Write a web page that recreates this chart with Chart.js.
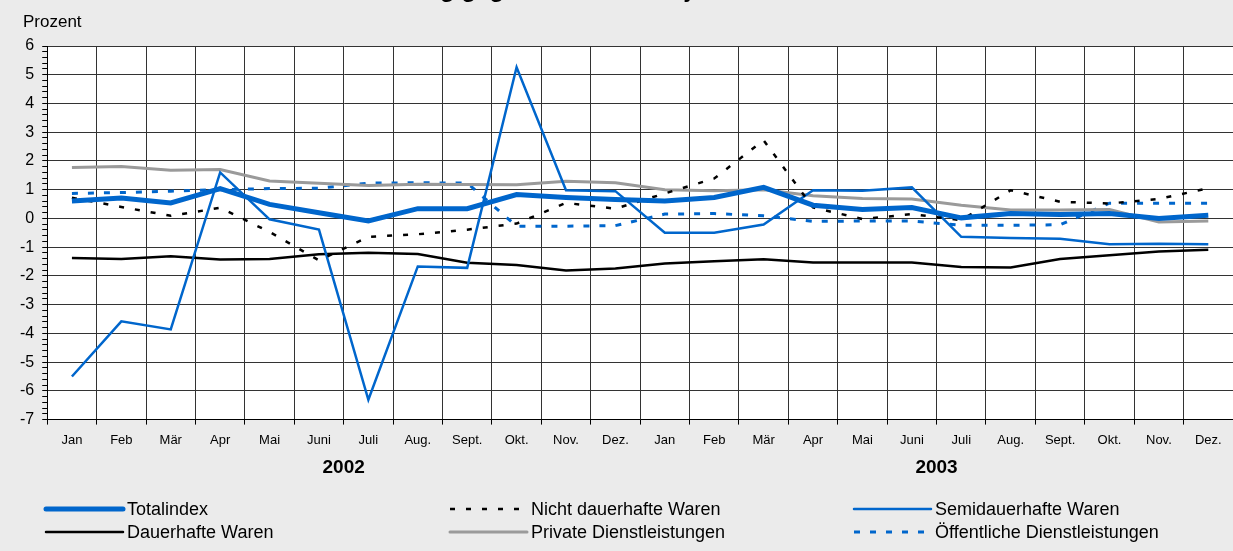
<!DOCTYPE html>
<html>
<head>
<meta charset="utf-8">
<script src="https://cdn.jsdelivr.net/npm/chart.js@4/dist/chart.umd.min.js"></script>
<style>
html, body { margin: 0; padding: 0; background: #ebebeb; }
</style>
</head>
<body>
<canvas id="lik" width="1233" height="551"></canvas>
<script>
var monthLabels = ['Jan', 'Feb', 'Mär', 'Apr', 'Mai', 'Juni', 'Juli', 'Aug.', 'Sept.', 'Okt.', 'Nov.', 'Dez.',
                   'Jan', 'Feb', 'Mär', 'Apr', 'Mai', 'Juni', 'Juli', 'Aug.', 'Sept.', 'Okt.', 'Nov.', 'Dez.'];
var years = ['2002', '2003'];

var totalindex = [0.61, 0.71, 0.54, 1.04, 0.49, 0.20, -0.09, 0.34, 0.34, 0.83, 0.73, 0.66,
                  0.61, 0.73, 1.08, 0.46, 0.31, 0.38, 0.02, 0.17, 0.14, 0.17, 0.00, 0.11];
var nichtDauerhaft = [0.72, 0.40, 0.09, 0.37, -0.47, -1.46, -0.64, -0.55, -0.39, -0.18, 0.54, 0.34,
                      0.87, 1.39, 2.72, 0.38, -0.02, 0.15, -0.06, 0.98, 0.58, 0.52, 0.68, 1.05];
var semidauerhaft = [-5.50, -3.58, -3.86, 1.60, -0.03, -0.39, -6.31, -1.67, -1.72, 5.26, 0.98, 0.95,
                     -0.50, -0.50, -0.21, 0.98, 0.96, 1.08, -0.64, -0.68, -0.71, -0.90, -0.88, -0.90];
var dauerhaft = [-1.38, -1.41, -1.32, -1.43, -1.41, -1.25, -1.19, -1.24, -1.54, -1.62, -1.81, -1.74,
                 -1.57, -1.49, -1.42, -1.53, -1.53, -1.53, -1.69, -1.71, -1.41, -1.28, -1.15, -1.09];
var privat = [1.77, 1.81, 1.68, 1.70, 1.30, 1.22, 1.15, 1.19, 1.18, 1.17, 1.29, 1.24,
              1.00, 0.96, 1.00, 0.79, 0.69, 0.68, 0.46, 0.29, 0.29, 0.31, -0.12, -0.09];
var oeffentlich = [0.87, 0.90, 0.95, 1.00, 1.04, 1.05, 1.23, 1.24, 1.23, -0.27, -0.27, -0.25,
                   0.15, 0.17, 0.09, -0.10, -0.09, -0.09, -0.24, -0.24, -0.22, 0.53, 0.53, 0.53];

var blue = '#0066cc';
var font = '"Liberation Sans", Arial, sans-serif';

function isWhole(v) {
    return Math.abs(v - Math.round(v)) < 1e-6;
}

// grey page, white plot area
var background = {
    id: 'background',
    beforeDraw: function(chart) {
        var ctx = chart.ctx, a = chart.chartArea;
        ctx.save();
        ctx.fillStyle = '#ebebeb';
        ctx.fillRect(0, 0, chart.width, chart.height);
        ctx.fillStyle = '#ffffff';
        ctx.fillRect(a.left, a.top, a.right - a.left, a.bottom - a.top);
        ctx.restore();
    }
};

// title (cut at the top edge), unit label and the 3x2 legend
var texts = {
    id: 'texts',
    afterDraw: function(chart) {
        var ctx = chart.ctx;
        ctx.save();
        ctx.fillStyle = '#000';
        ctx.textBaseline = 'alphabetic';
        ctx.font = 'bold 24px ' + font;
        ctx.fillText('Veränderung gegenüber dem Vorjahr', 308, -3);
        ctx.font = '17px ' + font;
        ctx.fillText('Prozent', 23, 27);

        ctx.font = '18px ' + font;
        ctx.textBaseline = 'middle';
        chart.data.datasets.forEach(function(ds, i) {
            var x = 46 + (i % 3) * 404;
            var y = 509 + Math.floor(i / 3) * 23;
            ctx.beginPath();
            ctx.setLineDash(ds.borderDash || []);
            ctx.lineCap = ds.borderDash ? 'butt' : 'round';
            ctx.lineWidth = ds.borderWidth;
            ctx.strokeStyle = ds.borderColor;
            ctx.moveTo(x, y);
            ctx.lineTo(x + 77, y);
            ctx.stroke();
            ctx.setLineDash([]);
            ctx.fillText(ds.label, x + 81, y + 1);
        });
        ctx.restore();
    }
};

function line(label, data, color, width, dash) {
    var ds = {
        label: label,
        data: data,
        borderColor: color,
        backgroundColor: color,
        borderWidth: width,
        pointRadius: 0,
        tension: 0,
        fill: false
    };
    if (dash) ds.borderDash = dash;
    return ds;
}

var ctx = document.getElementById('lik').getContext('2d');
var config = {
    type: 'line',
    data: {
        labels: monthLabels,
        datasets: [
            line('Totalindex', totalindex, blue, 5),
            line('Nicht dauerhafte Waren', nichtDauerhaft, '#000', 2.5, [5, 11]),
            line('Semidauerhafte Waren', semidauerhaft, blue, 2.5),
            line('Dauerhafte Waren', dauerhaft, '#000', 2.5),
            line('Private Dienstleistungen', privat, '#9a9a9a', 3),
            line('Öffentliche Dienstleistungen', oeffentlich, blue, 3, [6, 10])
        ]
    },
    options: {
        responsive: false,
        animation: false,
        layout: { padding: { top: 46, left: 12, right: 0, bottom: 72 } },
        plugins: {
            legend: { display: false },
            title: { display: false },
            tooltip: { enabled: false }
        },
        scales: {
            x: {
                type: 'category',
                offset: true,
                weight: 0,
                grid: { offset: true, color: '#333', tickColor: '#000', tickLength: 5, lineWidth: 1 },
                border: { color: '#000', width: 1 },
                ticks: { color: '#000', font: { family: font, size: 13 }, maxRotation: 0, autoSkip: false, padding: 8 }
            },
            year: {
                type: 'category',
                labels: years,
                position: 'bottom',
                offset: true,
                weight: 1,
                grid: { display: false, drawTicks: false },
                border: { display: false },
                ticks: { color: '#000', font: { family: font, size: 19, weight: 'bold' }, padding: 0 }
            },
            y: {
                min: -7,
                max: 6,
                grid: {
                    color: function(c) { return isWhole(c.tick.value) ? '#333' : 'rgba(0,0,0,0)'; },
                    tickColor: '#000',
                    tickLength: 5,
                    lineWidth: 1
                },
                border: { color: '#000', width: 1 },
                ticks: {
                    stepSize: 0.2,
                    autoSkip: false,
                    color: '#000',
                    padding: 8,
                    font: { family: font, size: 16 },
                    callback: function(v) { return isWhole(v) ? String(Math.round(v)) : ''; }
                }
            }
        }
    },
    plugins: [background, texts]
};

var chart = new Chart(ctx, config);
</script>
</body>
</html>
